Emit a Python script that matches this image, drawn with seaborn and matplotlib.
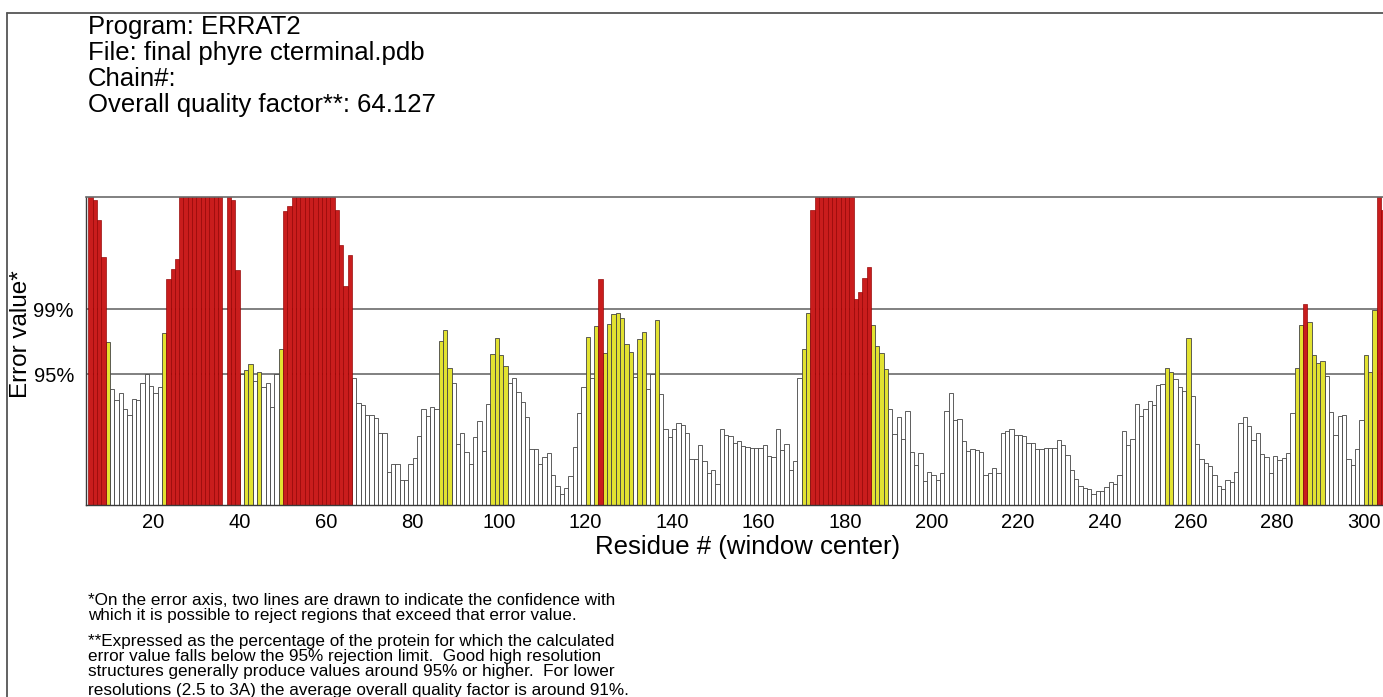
"""ERRAT2 overall quality plot for the C-terminal Phyre model."""

import matplotlib

matplotlib.use("Agg")
import matplotlib.pyplot as plt
import numpy as np
import pandas as pd
import seaborn as sns
from matplotlib.lines import Line2D

FIG_W, FIG_H = 1383, 697

# error value per residue window, first window centred on residue 5 (27 = off the top)
first_residue = 5
error_values = [
    27.0, 26.6, 24.9, 21.7, 14.2, 10.1, 9.2, 9.8, 8.4, 7.9,          # 5-14
    9.3, 9.2, 10.7, 11.4, 10.4, 9.8, 10.3, 15.0, 19.7, 20.6,        # 15-24
    21.5, 27.0, 27.0, 27.0, 27.0, 27.0, 27.0, 27.0, 27.0, 27.0,     # 25-34
    27.0, 0.0, 27.0, 26.6, 20.5, 11.4, 11.8, 12.3, 10.8, 11.6,      # 35-44
    10.3, 10.7, 8.6, 11.4, 13.6, 25.7, 26.1, 27.0, 27.0, 27.0,      # 45-54
    27.0, 27.0, 27.0, 27.0, 27.0, 27.0, 27.0, 25.8, 22.7, 19.1,     # 55-64
    21.8, 11.1, 8.9, 8.7, 7.9, 7.9, 7.6, 6.3, 6.3, 2.9,             # 65-74
    3.6, 3.6, 2.2, 2.2, 3.6, 4.1, 6.0, 8.4, 7.8, 8.6,               # 75-84
    8.4, 14.3, 15.3, 12.0, 10.7, 5.3, 6.3, 4.6, 3.6, 5.9,           # 85-94
    7.3, 4.7, 8.8, 13.2, 14.6, 13.1, 12.1, 10.7, 11.1, 9.9,         # 95-104
    9.0, 7.7, 4.9, 4.9, 3.6, 4.2, 4.5, 2.6, 1.7, 1.0,               # 105-114
    1.5, 2.5, 5.1, 8.0, 10.3, 14.7, 11.1, 15.6, 19.7, 13.3,         # 115-124
    15.8, 16.7, 16.8, 16.3, 14.1, 13.4, 11.2, 14.5, 15.1, 10.1,     # 125-134
    11.4, 16.2, 9.7, 6.6, 5.9, 6.6, 7.2, 7.0, 6.3, 4.0,             # 135-144
    4.0, 5.2, 3.8, 2.8, 3.1, 1.8, 6.6, 6.1, 6.0, 5.4,               # 145-154
    5.6, 5.15, 5.1, 5.0, 5.0, 4.95, 5.2, 4.3, 4.2, 6.6,             # 155-164
    4.8, 5.3, 3.1, 3.8, 11.1, 13.6, 16.8, 25.8, 27.0, 27.0,         # 165-174
    27.0, 27.0, 27.0, 27.0, 27.0, 27.0, 27.0, 18.0, 18.6, 19.8,     # 175-184
    20.8, 15.7, 13.9, 13.3, 11.9, 8.4, 6.2, 7.7, 5.8, 8.2,          # 185-194
    4.6, 3.5, 4.5, 2.1, 2.9, 2.6, 2.2, 2.8, 8.2, 9.8,               # 195-204
    7.4, 7.5, 5.6, 4.7, 4.9, 4.8, 4.6, 2.6, 2.8, 3.2,               # 205-214
    2.8, 6.3, 6.5, 6.6, 6.1, 6.1, 6.0, 5.4, 5.4, 4.9,               # 215-224
    4.9, 5.0, 5.0, 5.0, 5.7, 5.2, 4.4, 3.1, 2.3, 1.7,               # 225-234
    1.5, 1.4, 1.0, 1.2, 1.2, 1.6, 2.0, 1.8, 2.6, 6.5,               # 235-244
    5.2, 5.8, 8.8, 7.8, 8.4, 9.1, 8.7, 10.5, 10.6, 12.0,            # 245-254
    11.6, 11.0, 10.3, 10.0, 14.6, 9.5, 5.3, 4.0, 3.7, 3.4,          # 255-264
    2.6, 1.7, 1.4, 2.2, 2.0, 2.9, 7.2, 7.7, 6.9, 5.7,               # 265-274
    6.3, 4.45, 4.2, 2.8, 4.3, 3.9, 4.1, 4.5, 8.0, 12.0,             # 275-284
    15.7, 17.6, 16.0, 13.1, 12.4, 12.6, 11.3, 8.1, 6.1, 7.8,        # 285-294
    7.9, 4.0, 3.5, 4.9, 7.4, 13.1, 11.6, 17.0, 27.0, 25.8,          # 295-304
]

limit_95 = 11.44
limit_99 = 17.09
error_top = 26.93

y_tick_values = [limit_95, limit_99]
y_tick_labels = ["95%", "99%"]
x_tick_values = list(range(10, 310, 10))

header_lines = [
    "Program: ERRAT2",
    "File: final phyre cterminal.pdb",
    "Chain#:",
    "Overall quality factor**: 64.127",
]
footnote_lines = [
    "*On the error axis, two lines are drawn to indicate the confidence with",
    "which it is possible to reject regions that exceed that error value.",
    "**Expressed as the percentage of the protein for which the calculated",
    "error value falls below the 95% rejection limit.  Good high resolution",
    "structures generally produce values around 95% or higher.  For lower",
    "resolutions (2.5 to 3A) the average overall quality factor is around 91%.",
]

palette = {"white": "#ffffff", "yellow": "#ffff14", "red": "#e60000"}


def fx(px):
    return px / FIG_W


def fy(py):
    return 1 - py / FIG_H


values = np.array(error_values)
residues = np.arange(first_residue, first_residue + len(values))
level = np.where(values > limit_99, "red", np.where(values > limit_95, "yellow", "white"))
# ERRAT draws each window bar to the right of its residue tick
frame = pd.DataFrame({"pos": residues + 0.5, "error": values, "level": level})

sns.set_style("white")
plt.rcParams["font.family"] = ["Liberation Sans", "DejaVu Sans"]
plt.rcParams["text.color"] = "black"
plt.rcParams["xtick.color"] = "black"
plt.rcParams["ytick.color"] = "black"

fig = plt.figure(figsize=(FIG_W / 100, FIG_H / 100), dpi=100)
ax_left, ax_right = 86.5, 1400
ax_top, ax_bottom = 196.7, 505
ax = fig.add_axes([fx(ax_left), fy(ax_bottom), fx(ax_right - ax_left), (ax_bottom - ax_top) / FIG_H])

ax.axhline(limit_99, color="#6b6b6b", lw=1.2, zorder=0.5)
ax.axhline(limit_95, color="#6b6b6b", lw=1.2, zorder=0.5)

sns.barplot(
    data=frame,
    x="pos",
    y="error",
    hue="level",
    hue_order=["white", "yellow", "red"],
    palette=palette,
    native_scale=True,
    dodge=False,
    width=1.0,
    edgecolor="#444444",
    linewidth=0.6,
    errorbar=None,
    legend=False,
    ax=ax,
)
for patch in ax.patches:
    r, g, b, _ = patch.get_facecolor()
    if r > 0.7 and g < 0.2:
        patch.set_edgecolor("#900000")
        patch.set_linewidth(0.45)

px_per_res = 4.323
ax.set_xlim(10 - (110 - ax_left) / px_per_res, 10 + (ax_right - 110) / px_per_res)
ax.set_ylim(0, error_top)

ax.set_xticks(x_tick_values)
ax.set_xticklabels([str(t) if t % 20 == 0 else "" for t in x_tick_values])
ax.set_yticks(y_tick_values)
ax.set_yticklabels(y_tick_labels)
ax.tick_params(axis="x", direction="out", length=4, width=0.8, color="#444444", labelsize=14.5, pad=2)
ax.tick_params(axis="y", direction="out", length=7, width=0.8, color="#444444", labelsize=14.5, pad=2)
ax.set_xlabel("")
ax.set_ylabel("")

for side in ["left", "bottom"]:
    ax.spines[side].set_color("#3a3a3a")
    ax.spines[side].set_linewidth(1.0)
ax.spines["top"].set_color("#6b6b6b")
ax.spines["top"].set_linewidth(1.2)
ax.spines["right"].set_visible(False)

fig.text(fx(21), fy(334), "Error value*", rotation=90, ha="center", va="center", fontsize=17.5)
fig.text(fx(748), fy(547), "Residue # (window center)", ha="center", va="center", fontsize=18.5)

for i, line in enumerate(header_lines):
    fig.text(fx(87.5), fy(34 + 26 * i), line, ha="left", va="baseline", fontsize=18.5)

foot_baselines = [605, 620, 646, 661, 676, 695]
for line, base in zip(footnote_lines, foot_baselines):
    fig.text(fx(88), fy(base), line, ha="left", va="baseline", fontsize=12.3)

# page border around the ERRAT output
fig.add_artist(Line2D([fx(7.3), fx(7.3)], [fy(13.3), 0], transform=fig.transFigure, color="#555555", lw=1.3))
fig.add_artist(Line2D([fx(7.3), 1], [fy(13.3), fy(13.3)], transform=fig.transFigure, color="#555555", lw=1.3))

fig.savefig("out.png", dpi=100)
plt.close(fig)
